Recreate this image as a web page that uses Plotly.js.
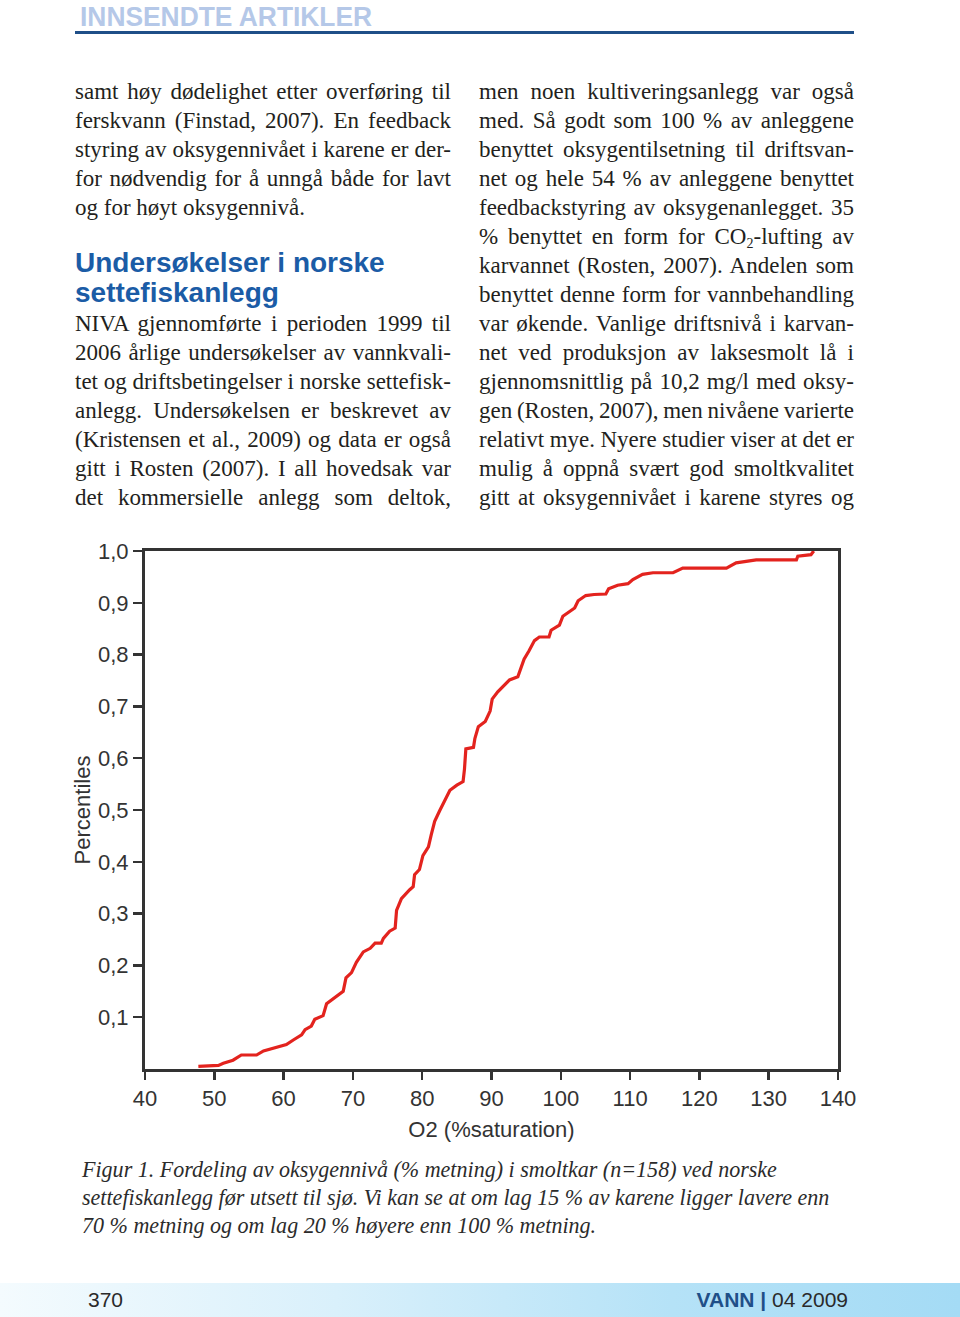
<!DOCTYPE html>
<html>
<head>
<meta charset="utf-8">
<script src="https://cdn.plot.ly/plotly-3.0.1.min.js"></script>
<style>
  html, body { margin:0; padding:0; background:#fff; }
  #page { position:relative; width:960px; height:1317px; overflow:hidden; background:#fff; }
  .hdr { position:absolute; left:80px; top:2px; font-family:"Liberation Sans Narrow","Liberation Sans",Arial,sans-serif; font-weight:bold; font-size:27px; color:#b5c8e8; white-space:nowrap; transform-origin:left top; }
  .hline { position:absolute; left:75px; top:31px; width:779px; height:3px; background:#1f4f88; }
  .ln { position:absolute; font-family:"Liberation Serif","Times New Roman",serif; font-size:23px; line-height:29px; color:#231f20; white-space:nowrap; }
  .ln sub { font-size:14px; vertical-align:-4px; line-height:0; }
  .h2 { position:absolute; left:75px; font-family:"Liberation Sans",Arial,sans-serif; font-weight:bold; font-size:28px; line-height:30px; color:#1b5ca6; white-space:nowrap; }
  .cap { position:absolute; left:82px; font-family:"Liberation Serif","Times New Roman",serif; font-style:italic; font-size:22px; line-height:28px; color:#2b2b2b; white-space:nowrap; }
  #footer { position:absolute; left:0; top:1283px; width:960px; height:34px; background:linear-gradient(to right,#f4fbfe 0%,#d9f0fb 35%,#b5e2f7 70%,#a4dbf5 100%); }
  .pg { position:absolute; left:88px; top:1288px; font-family:"Liberation Sans",Arial,sans-serif; font-size:21px; line-height:24px; color:#2a2a2a; }
  .mag { position:absolute; right:112px; top:1288px; font-family:"Liberation Sans",Arial,sans-serif; font-size:21px; line-height:24px; color:#2a2a2a; white-space:nowrap; }
  .mag b { color:#1f4f88; }
  #chart { position:absolute; left:0; top:530px; width:960px; height:620px; }
</style>
</head>
<body>
<div id="page">
  <div class="hdr" id="hdr">INNSENDTE ARTIKLER</div>
  <div class="hline"></div>
  <div id="textArea"></div>
  <div id="chart"></div>
  <div id="capArea"></div>
  <div id="footer"></div>
  <div class="pg">370</div>
  <div class="mag"><b>VANN | </b>04 2009</div>
</div>
<script>
// ---------------- chart data ----------------
const O2 = [47.7, 50.6, 51.3, 52.7, 53.9, 56.1, 57.1, 59.0, 60.4, 61.4, 62.6, 63.1, 64.0, 64.5, 65.7, 66.2, 67.6, 68.6, 69.0, 69.8,
            70.5, 71.5, 72.5, 73.2, 74.1, 74.4, 75.3, 76.1, 76.3, 77.0, 78.2, 78.7, 78.9, 79.6, 80.1, 80.9, 81.3, 81.8, 82.5, 83.3,
            84.0, 85.0, 85.9, 86.1, 86.3, 87.4, 87.6, 88.1, 89.1, 89.8, 90.1, 90.9, 91.8, 92.6, 93.8, 94.2, 94.7, 95.4, 96.2, 96.9,
            98.3, 98.6, 99.8, 100.3, 101.3, 102.0, 102.5, 103.6, 104.8, 106.5, 106.9, 108.2, 109.7, 110.4, 111.8, 113.3, 116.2, 117.6,
            123.9, 125.3, 128.2, 134.0, 134.2, 136.1, 136.5];
const PERCENTILE = [0.005, 0.007, 0.011, 0.017, 0.027, 0.027, 0.035, 0.041, 0.047, 0.056, 0.066, 0.076, 0.083, 0.096, 0.103, 0.126, 0.14, 0.15, 0.176, 0.186,
            0.206, 0.226, 0.233, 0.243, 0.243, 0.252, 0.266, 0.272, 0.306, 0.329, 0.346, 0.352, 0.375, 0.385, 0.412, 0.429, 0.452, 0.478, 0.498, 0.518,
            0.538, 0.548, 0.555, 0.579, 0.618, 0.621, 0.638, 0.661, 0.671, 0.691, 0.714, 0.728, 0.741, 0.751, 0.757, 0.771, 0.791, 0.807, 0.827, 0.834,
            0.834, 0.847, 0.857, 0.874, 0.884, 0.890, 0.904, 0.914, 0.916, 0.917, 0.927, 0.934, 0.937, 0.945, 0.955, 0.958, 0.958, 0.967,
            0.967, 0.977, 0.983, 0.983, 0.990, 0.993, 1.0];
const X_TICKS = [40, 50, 60, 70, 80, 90, 100, 110, 120, 130, 140];
const Y_TICKS = [0.1, 0.2, 0.3, 0.4, 0.5, 0.6, 0.7, 0.8, 0.9, 1.0];
const X_TITLE = "O2 (%saturation)";
const Y_TITLE = "Percentiles";

// ---------------- page text ----------------
const LEFT_P1 = ["samt høy dødelighet etter overføring til", "ferskvann (Finstad, 2007). En feedback",
  "styring av oksygennivået i karene er der-", "for nødvendig for å unngå både for lavt", "og for høyt oksygennivå."];
const HEADING = ["Undersøkelser i norske", "settefiskanlegg"];
const LEFT_P2 = ["NIVA gjennomførte i perioden 1999 til", "2006 årlige undersøkelser av vannkvali-",
  "tet og driftsbetingelser i norske settefisk-", "anlegg. Undersøkelsen er beskrevet av",
  "(Kristensen et al., 2009) og data er også", "gitt i Rosten (2007). I all hovedsak var",
  "det kommersielle anlegg som deltok,"];
const RIGHT = ["men noen kultiveringsanlegg var også", "med. Så godt som 100 % av anleggene",
  "benyttet oksygentilsetning til driftsvan-", "net og hele 54 % av anleggene benyttet",
  "feedbackstyring av oksygenanlegget. 35", "% benyttet en form for CO<sub>2</sub>-lufting av",
  "karvannet (Rosten, 2007). Andelen som", "benyttet denne form for vannbehandling",
  "var økende. Vanlige driftsnivå i karvan-", "net ved produksjon av laksesmolt lå i",
  "gjennomsnittlig på 10,2 mg/l med oksy-", "gen (Rosten, 2007), men nivåene varierte",
  "relativt mye. Nyere studier viser at det er", "mulig å oppnå svært god smoltkvalitet",
  "gitt at oksygennivået i karene styres og"];
const CAPTION = ["Figur 1. Fordeling av oksygennivå (% metning) i smoltkar (n=158) ved norske",
  "settefiskanlegg før utsett til sjø. Vi kan se at om lag 15 % av karene ligger lavere enn",
  "70 % metning og om lag 20 % høyere enn 100 % metning."];

const area = document.getElementById('textArea');
function addLine(html, left, center, width, justify) {
  const d = document.createElement('div');
  d.className = 'ln';
  d.innerHTML = html;
  d.style.left = left + 'px';
  d.style.top = (center - 15) + 'px';
  area.appendChild(d);
  const w = d.getBoundingClientRect().width;
  if (justify) {
    const spaces = (d.textContent.match(/ /g) || []).length;
    const extra = width - w;
    if (spaces > 0) {
      let ws = extra / spaces;
      if (ws < -2) {
        ws = -2;
        const w2 = w - 2 * spaces;
        d.style.transformOrigin = 'left top';
        d.style.transform = 'scaleX(' + (width / w2).toFixed(4) + ')';
      }
      d.style.wordSpacing = ws + 'px';
    }
  } else if (w > width) {
    d.style.transformOrigin = 'left top';
    d.style.transform = 'scaleX(' + (width / w).toFixed(4) + ')';
  }
}
LEFT_P1.forEach((t, i) => addLine(t, 75, 92 + 29 * i, 376, i < LEFT_P1.length - 1));
HEADING.forEach((t, i) => {
  const d = document.createElement('div');
  d.className = 'h2'; d.textContent = t; d.style.top = (262 - 14 + 30 * i) + 'px';
  area.appendChild(d);
});
LEFT_P2.forEach((t, i) => addLine(t, 75, 324 + 29 * i, 376, true));
RIGHT.forEach((t, i) => addLine(t, 479, 92 + 29 * i, 375, true));

const capArea = document.getElementById('capArea');
const capDivs = CAPTION.map((t, i) => {
  const d = document.createElement('div');
  d.className = 'cap'; d.textContent = t; d.style.top = (1170 - 14 + 28 * i) + 'px';
  capArea.appendChild(d);
  return d;
});
const cw = capDivs[1].getBoundingClientRect().width;
const fs = 22 * 748 / cw;
capDivs.forEach(d => d.style.fontSize = fs.toFixed(2) + 'px');

const hdr = document.getElementById('hdr');
const hw = hdr.getBoundingClientRect().width;
hdr.style.transform = 'scaleX(' + (292 / hw).toFixed(3) + ')';

// ---------------- chart ----------------
const axisFont = {family: 'Liberation Sans, Arial, sans-serif', size: 22, color: '#333333'};
Plotly.newPlot('chart', [{
  type: 'scatter', mode: 'lines', x: O2, y: PERCENTILE,
  line: {color: '#e3231e', width: 3.2}, hoverinfo: 'skip'
}], {
  width: 960, height: 620,
  margin: {l: 145, r: 122, t: 21, b: 81, pad: 0},
  paper_bgcolor: 'rgba(0,0,0,0)', plot_bgcolor: '#ffffff',
  separators: ',.',
  showlegend: false,
  font: axisFont,
  xaxis: {
    range: [40, 140], tickmode: 'array', tickvals: X_TICKS,
    ticks: 'outside', ticklen: 8, tickwidth: 2.5, tickcolor: '#333333',
    showline: true, linewidth: 3, linecolor: '#333333', mirror: true,
    showgrid: false, zeroline: false, tickfont: axisFont,
    title: {text: X_TITLE, font: axisFont, standoff: 12}
  },
  yaxis: {
    range: [0, 1], tickmode: 'array', tickvals: Y_TICKS, tickformat: '.1f',
    ticks: 'outside', ticklen: 9, tickwidth: 2.5, tickcolor: '#333333',
    showline: true, linewidth: 3, linecolor: '#333333', mirror: true,
    showgrid: false, zeroline: false, tickfont: axisFont,
    title: {text: Y_TITLE, font: {family: 'Liberation Sans, Arial, sans-serif', size: 22, color: '#333333'}, standoff: 2}
  }
}, {displayModeBar: false, staticPlot: true});
</script>
</body>
</html>
